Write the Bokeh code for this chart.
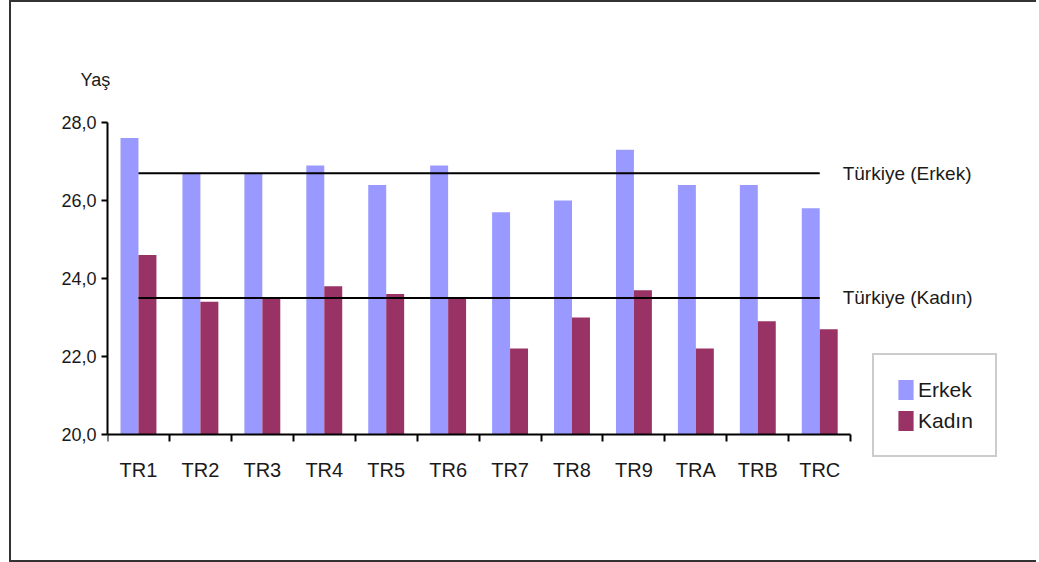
from bokeh.plotting import figure
from bokeh.models import (Range1d, FixedTicker, Legend, LegendItem, Label, Title, ColumnDataSource)
from bokeh.transform import dodge
from bokeh.embed import file_html
from bokeh.resources import INLINE

regions = ["TR1", "TR2", "TR3", "TR4", "TR5", "TR6", "TR7", "TR8", "TR9", "TRA", "TRB", "TRC"]
erkek = [27.6, 26.7, 26.7, 26.9, 26.4, 26.9, 25.7, 26.0, 27.3, 26.4, 26.4, 25.8]
kadin = [24.6, 23.4, 23.5, 23.8, 23.6, 23.5, 22.2, 23.0, 23.7, 22.2, 22.9, 22.7]
turkiye_erkek = 26.7
turkiye_kadin = 23.5
y_ticks = [20, 22, 24, 26, 28]
y_tick_labels = ["20,0", "22,0", "24,0", "26,0", "28,0"]
series_names = ["Erkek", "Kadın"]
line_labels = ["Türkiye (Erkek)", "Türkiye (Kadın)"]
y_title = "Yaş"

FONT = "Liberation Sans"
C_ERKEK = "#9999FF"
C_KADIN = "#993366"
TXT = "#1a1a1a"

n = len(regions)
centers = [i + 0.5 for i in range(n)]          # category slots on a numeric axis
bounds_ticks = list(range(n + 1))               # slot boundaries
src = ColumnDataSource(dict(xc=centers, erkek=erkek, kadin=kadin))

p = figure(frame_width=929, frame_height=377,
           x_range=Range1d(0, 15.0), y_range=Range1d(18.33, 28),
           output_backend="svg", toolbar_location=None,
           min_border_left=96, min_border_right=0, min_border_top=120, min_border_bottom=61)
p.styles = {"position": "relative", "left": "9px", "top": "0px",
            "border-left": "2px solid #333333", "border-top": "2px solid #333333",
            "border-bottom": "2px solid #333333"}
p.outline_line_color = None
p.xgrid.visible = False
p.ygrid.visible = False
p.background_fill_color = "white"
p.border_fill_color = "white"

p.add_layout(Title(text=y_title, align="left", offset=-27, standoff=66,
                   text_font=FONT, text_font_size="18px", text_font_style="normal",
                   text_color=TXT), "above")

# y axis
ya = p.yaxis[0]
ya.bounds = (y_ticks[0], y_ticks[-1])
ya.ticker = FixedTicker(ticks=y_ticks)
ya.major_label_overrides = {t: l for t, l in zip(y_ticks, y_tick_labels)}
ya.minor_tick_line_color = None
ya.major_tick_in = 0
ya.major_tick_out = 6
ya.major_tick_line_width = 2
ya.axis_line_width = 2
ya.axis_line_color = "black"
ya.major_tick_line_color = "black"
ya.major_label_text_font = FONT
ya.major_label_text_font_size = "18px"
ya.major_label_text_color = TXT
ya.major_label_standoff = 5

# x axis: labels at slot centres, ticks at slot boundaries
xa = p.xaxis[0]
xa.fixed_location = y_ticks[0]
xa.bounds = (0, n)
xa.ticker = FixedTicker(ticks=centers, minor_ticks=bounds_ticks)
xa.major_label_overrides = {c: r for c, r in zip(centers, regions)}
xa.major_tick_in = 0
xa.major_tick_out = 0
xa.minor_tick_in = 0
xa.minor_tick_out = 7
xa.minor_tick_line_width = 2
xa.minor_tick_line_color = "black"
xa.axis_line_width = 2
xa.axis_line_color = "black"
xa.major_label_text_font = FONT
xa.major_label_text_font_size = "20px"
xa.major_label_text_color = TXT
xa.major_label_standoff = 18

r1 = p.vbar(x=dodge("xc", -0.145), top="erkek", bottom=y_ticks[0], width=0.29,
            source=src, fill_color=C_ERKEK, line_color=None)
r2 = p.vbar(x=dodge("xc", 0.145), top="kadin", bottom=y_ticks[0], width=0.29,
            source=src, fill_color=C_KADIN, line_color=None)

for v in (turkiye_erkek, turkiye_kadin):
    p.segment(x0=[centers[0]], x1=[centers[-1]], y0=[v], y1=[v], line_color="black", line_width=2)

for v, t in zip((turkiye_erkek, turkiye_kadin), line_labels):
    p.add_layout(Label(x=n, y=v, x_offset=-8, text=t, text_font=FONT,
                       text_font_size="19px", text_color=TXT, text_baseline="middle"))

legend = Legend(items=[LegendItem(label=series_names[0], renderers=[r1]),
                       LegendItem(label=series_names[1], renderers=[r2])],
                location=(765, 42), padding=22, spacing=6, glyph_width=19, glyph_height=25,
                label_height=25, label_standoff=3, label_text_font=FONT,
                label_text_font_size="21px", label_text_color=TXT,
                border_line_color="#999999", border_line_width=2,
                background_fill_color="white", background_fill_alpha=1)
p.add_layout(legend, "center")

open("out.html", "w").write(file_html(p, INLINE))
